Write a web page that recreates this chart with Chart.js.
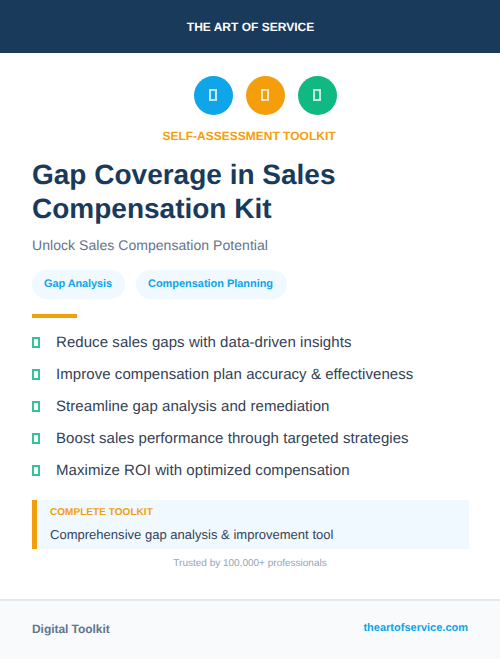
<!DOCTYPE html>
<html><head><meta charset="utf-8">
<script src="https://cdn.jsdelivr.net/npm/chart.js@4"></script>
<style>
html,body{margin:0;padding:0;background:#fff;width:500px;height:659px;overflow:hidden;font-family:"Liberation Sans",sans-serif;text-rendering:geometricPrecision}
.a{position:absolute;white-space:nowrap;line-height:1}
.box{position:absolute;box-sizing:border-box}
</style></head><body>
<div class="box" style="left:0;top:0;width:500px;height:53px;background:#1a3a5c"></div>
<div class="a" style="left:0;width:501px;text-align:center;top:21px;color:#fff;font-size:12px;font-weight:700">THE ART OF SERVICE</div>
<canvas id="c" width="156" height="61" style="position:absolute;left:187px;top:65px;width:156px;height:61px"></canvas>
<div class="box" style="left:209px;top:89px;width:8px;height:12px;border:2px solid rgba(255,255,255,.75)"></div>
<div class="box" style="left:261px;top:89px;width:8px;height:12px;border:2px solid rgba(255,255,255,.75)"></div>
<div class="box" style="left:313px;top:89px;width:8px;height:12px;border:2px solid rgba(255,255,255,.75)"></div>
<div class="a" style="left:0;width:498px;text-align:center;top:130px;color:#f59e0b;font-size:12px;font-weight:700">SELF-ASSESSMENT TOOLKIT</div>
<div class="a" style="left:32px;top:158px;color:#1a3a5c;font-size:28px;font-weight:700;line-height:34px;white-space:normal;width:436px">Gap Coverage in Sales<br>Compensation Kit</div>
<div class="a" style="left:32px;top:238px;color:#64748b;font-size:14px;letter-spacing:.05px">Unlock Sales Compensation Potential</div>
<div class="box" style="left:32px;top:270px;width:93px;height:29px;border-radius:15px;background:#f0f9ff"></div>
<div class="a" style="left:44px;top:279px;color:#0ea5e9;font-size:11px;font-weight:700;letter-spacing:-.1px">Gap Analysis</div>
<div class="box" style="left:136px;top:270px;width:151px;height:29px;border-radius:15px;background:#f0f9ff"></div>
<div class="a" style="left:148px;top:279px;color:#0ea5e9;font-size:11px;font-weight:700;letter-spacing:-.04px">Compensation Planning</div>
<div class="box" style="left:32px;top:314px;width:45px;height:4px;background:#f59e0b"></div>
<div id="list"></div>
<div class="box" style="left:32px;top:500px;width:437px;height:49px;background:#f0f9ff;border-left:5px solid #f59e0b"></div>
<div class="a" style="left:50px;top:508px;color:#f59e0b;font-size:10px;font-weight:700;letter-spacing:.05px">COMPLETE TOOLKIT</div>
<div class="a" style="left:50px;top:528px;color:#334155;font-size:13px;letter-spacing:.02px">Comprehensive gap analysis &amp; improvement tool</div>
<div class="a" style="left:0;width:500px;text-align:center;top:559px;color:#94a3b8;font-size:10px">Trusted by 100,000+ professionals</div>
<div class="box" style="left:0;top:599px;width:500px;height:60px;background:#f8fafc;border-top:2px solid #e2e8f0"></div>
<div class="a" style="left:32px;top:623px;color:#64748b;font-size:12px;font-weight:700;letter-spacing:-.05px">Digital Toolkit</div>
<div class="a" style="right:32px;top:623px;color:#0ea5e9;font-size:11px;font-weight:700">theartofservice.com</div>
<script>
const iconNames = ['Sky', 'Amber', 'Emerald'];
const iconValues = [0, 0, 0];
const iconColors = ['#0ea5e9', '#f59e0b', '#10b981'];
const benefits = [
  'Reduce sales gaps with data-driven insights',
  'Improve compensation plan accuracy & effectiveness',
  'Streamline gap analysis and remediation',
  'Boost sales performance through targeted strategies',
  'Maximize ROI with optimized compensation'
];
const list = document.getElementById('list');
benefits.forEach((t, i) => {
  const y = 342 + 32 * i;
  const m = document.createElement('div');
  m.className = 'box';
  m.style.cssText = `left:32px;top:${y - 5}px;width:8px;height:11px;border:2px solid rgba(16,185,129,.85)`;
  const s = document.createElement('div');
  s.className = 'a';
  s.style.cssText = `left:56px;top:${y - 7}px;color:#334155;font-size:15px;letter-spacing:.065px`;
  s.textContent = t;
  list.append(m, s);
});
new Chart(document.getElementById('c'), {
  type: 'scatter',
  data: { labels: iconNames, datasets: [{
    data: iconValues.map((v, i) => ({ x: i, y: v })),
    backgroundColor: iconColors, borderWidth: 0,
    pointRadius: 19.5, pointHoverRadius: 19.5, clip: false
  }] },
  options: {
    responsive: false, animation: false, devicePixelRatio: 1,
    layout: { padding: 0, autoPadding: false },
    plugins: { legend: { display: false }, tooltip: { enabled: false } },
    scales: {
      x: { type: 'linear', min: -0.51, max: 2.49, display: false },
      y: { min: -1, max: 1, display: false }
    }
  }
});
</script>
</body></html>
